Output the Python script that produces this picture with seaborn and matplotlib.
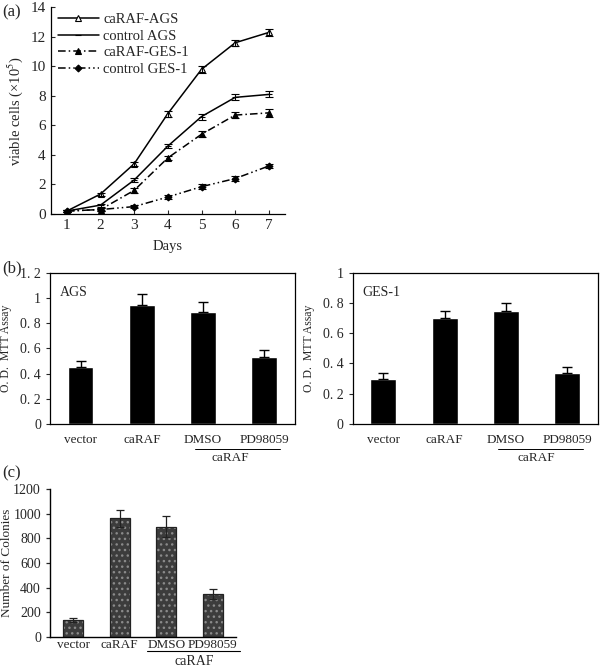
import matplotlib
matplotlib.use("Agg")
import matplotlib.pyplot as plt
from matplotlib.patches import Rectangle
import seaborn as sns
import numpy as np
import pandas as pd

# ---- data ----
days = [1, 2, 3, 4, 5, 6, 7]
caraf_ags = [0.2, 1.35, 3.4, 6.8, 9.8, 11.6, 12.3]
caraf_ags_err = [0.1, 0.1, 0.15, 0.2, 0.25, 0.2, 0.25]
control_ags = [0.2, 0.6, 2.3, 4.6, 6.6, 7.9, 8.1]
control_ags_err = [0.1, 0.1, 0.15, 0.15, 0.2, 0.2, 0.2]
caraf_ges = [0.2, 0.3, 1.6, 3.8, 5.4, 6.7, 6.85]
caraf_ges_err = [0.05, 0.1, 0.15, 0.15, 0.2, 0.2, 0.25]
control_ges = [0.2, 0.3, 0.5, 1.15, 1.85, 2.4, 3.25]
control_ges_err = [0.05, 0.1, 0.1, 0.15, 0.15, 0.15, 0.15]

groups = ["vector", "caRAF", "DMSO", "PD98059"]
mtt_ags = [0.45, 0.94, 0.89, 0.53]
mtt_ags_err = [0.05, 0.09, 0.08, 0.06]
mtt_ges = [0.30, 0.70, 0.75, 0.34]
mtt_ges_err = [0.035, 0.045, 0.05, 0.035]

colonies = [135, 965, 895, 345]
colonies_err = [15, 70, 85, 40]

sns.set_style("white")
plt.rcParams["font.family"] = ["Liberation Serif", "DejaVu Sans"]
plt.rcParams["mathtext.fontset"] = "stix"

fig = plt.figure(figsize=(6, 6.67), dpi=100)

# ---- (a) growth curves ----
ax = fig.add_axes([0.0845, 0.6792, 0.3905, 0.3098])
series = [
    ("caRAF-AGS", caraf_ags, caraf_ags_err, "-", "^", "white", 4),
    ("control AGS", control_ags, control_ags_err, "-", "_", "black", 5),
    ("caRAF-GES-1", caraf_ges, caraf_ges_err, (0, (5, 2, 1, 2)), "^", "black", 4),
    ("control GES-1", control_ges, control_ges_err, (0, (5, 2, 1, 2, 1, 2)), "D", "black", 3.5),
]
for name, vals, err, ls, mk, mfc, ms in series:
    df = pd.DataFrame({"day": days, "val": vals})
    sns.lineplot(data=df, x="day", y="val", ax=ax, color="black", lw=1.1,
                 linestyle=ls, marker=mk, markersize=ms, markerfacecolor=mfc,
                 markeredgecolor="black", markeredgewidth=0.8, label=name)
    ax.errorbar(days, vals, yerr=err, fmt="none", ecolor="black",
                elinewidth=0.8, capsize=3, capthick=0.8)
ax.set_xlim(0.52, 7.48)
ax.set_ylim(0, 14)
ax.set_xticks(days)
ax.set_yticks(range(0, 15, 2))
ax.set_xlabel("Days", fontsize=10.5, labelpad=6)
ax.set_ylabel("viable cells (×10$^5$)", fontsize=10.5, labelpad=4)
for s in ["top", "right"]:
    ax.spines[s].set_visible(False)
for s in ["left", "bottom"]:
    ax.spines[s].set_color("black")
    ax.spines[s].set_linewidth(0.9)
ax.tick_params(axis="both", labelsize=11, length=3, width=0.8,
               direction="in", left=True, bottom=True)
ax.legend(loc="upper left", bbox_to_anchor=(-0.025, 1.035), frameon=False,
          fontsize=10.5, handlelength=2.8, handletextpad=0.3, labelspacing=0.22)

# ---- (b) MTT bars ----
def mtt_panel(rect, vals, err, ymax, ticks, ticklabels, title, cap_x):
    ax = fig.add_axes(rect)
    df = pd.DataFrame({"group": groups, "val": vals})
    sns.barplot(data=df, x="group", y="val", ax=ax, color="black",
                width=0.42, saturation=1, errorbar=None)
    ax.errorbar(range(len(groups)), vals, yerr=[np.zeros(len(err)), err],
                fmt="none", ecolor="black", elinewidth=1.0, capsize=3.5, capthick=1.0)
    ax.set_xlim(-0.5, 3.5)
    ax.set_ylim(0, ymax)
    ax.set_yticks(ticks)
    ax.set_yticklabels(ticklabels)
    ax.set_xlabel("")
    ax.set_ylabel("O. D.  MTT Assay", fontsize=8.5, labelpad=6)
    for s in ax.spines.values():
        s.set_visible(True)
        s.set_color("black")
        s.set_linewidth(0.9)
    ax.tick_params(axis="y", labelsize=10, length=3, width=0.8, direction="out", left=True)
    ax.tick_params(axis="x", labelsize=9.5, length=0, pad=7)
    ax.text(0.04, 0.87, title, transform=ax.transAxes, fontsize=10, va="center")
    tr = ax.get_xaxis_transform()
    ax.plot([1.87, 3.25], [-0.165, -0.165], transform=tr, color="black",
            lw=0.7, clip_on=False)
    ax.text(cap_x, -0.225, "caRAF", transform=tr, ha="center", va="center", fontsize=9.5)
    return ax

mtt_panel([0.0833, 0.3643, 0.4083, 0.2269], mtt_ags, mtt_ags_err, 1.2,
          [0, 0.2, 0.4, 0.6, 0.8, 1.0, 1.2],
          ["0", "0. 2", "0. 4", "0. 6", "0. 8", "1", "1. 2"], "AGS", 2.44)
mtt_panel([0.5878, 0.3643, 0.4088, 0.2269], mtt_ges, mtt_ges_err, 1.0,
          [0, 0.2, 0.4, 0.6, 0.8, 1.0],
          ["0", "0. 2", "0. 4", "0. 6", "0. 8", "1"], "GES-1", 2.5)

# ---- (c) colony formation ----
ax = fig.add_axes([0.0833, 0.0454, 0.31, 0.221])
df = pd.DataFrame({"group": groups, "val": colonies})
sns.barplot(data=df, x="group", y="val", ax=ax, color="#3c3c3c",
            width=0.43, saturation=1, errorbar=None)
for p in ax.patches:
    p.set_hatch("...")
    p.set_edgecolor("#8a8a8a")
    p.set_linewidth(0)
    ax.add_patch(Rectangle(p.get_xy(), p.get_width(), p.get_height(),
                           fill=False, edgecolor="#222222", lw=0.9))
ax.errorbar(range(len(groups)), colonies, yerr=colonies_err, fmt="none",
            ecolor="#222222", elinewidth=0.9, capsize=3, capthick=0.9)
ax.set_xlim(-0.5, 3.5)
ax.set_ylim(0, 1200)
ax.set_yticks(range(0, 1201, 200))
ax.set_xlabel("")
ax.set_ylabel("Number of Colonies", fontsize=9.5)
ax.yaxis.set_label_coords(-0.2, 0.5)
for s in ["top", "right"]:
    ax.spines[s].set_visible(False)
for s in ["left", "bottom"]:
    ax.spines[s].set_color("black")
    ax.spines[s].set_linewidth(1.0)
ax.tick_params(axis="y", labelsize=10, length=3, width=0.9, direction="out", left=True)
ax.tick_params(axis="x", labelsize=9.5, length=0, pad=2)
tr = ax.get_xaxis_transform()
ax.plot([1.59, 3.59], [-0.097, -0.097], transform=tr, color="black", lw=0.8, clip_on=False)
ax.text(2.6, -0.168, "caRAF", transform=tr, ha="center", va="center", fontsize=10)

# panel letters
fig.text(0.003, 0.982, "(a)", fontsize=12, va="center")
fig.text(0.003, 0.598, "(b)", fontsize=12, va="center")
fig.text(0.003, 0.291, "(c)", fontsize=12, va="center")

fig.savefig("out.png", dpi=100)
